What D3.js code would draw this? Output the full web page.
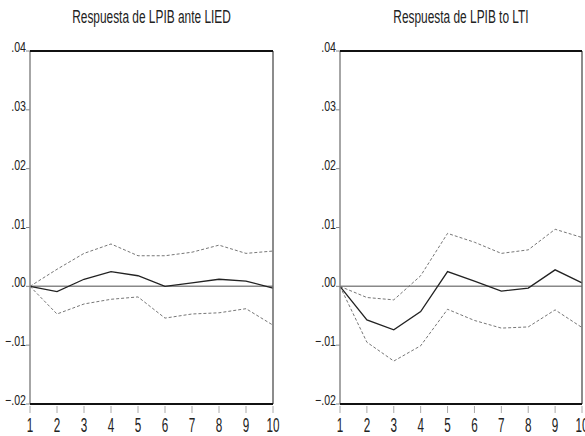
<!DOCTYPE html>
<html>
<head>
<meta charset="utf-8">
<script src="https://cdn.jsdelivr.net/npm/d3@7"></script>
<style>
  body { margin: 0; background: #fff; }
  text { font-family: "Liberation Sans", Arial, sans-serif; fill: #222; }
</style>
</head>
<body>
<svg id="chart" width="585" height="436"></svg>
<script>
// periods and tick values
var periods = [1, 2, 3, 4, 5, 6, 7, 8, 9, 10];
var yTicks = [-0.02, -0.01, 0.00, 0.01, 0.02, 0.03, 0.04];
var titles = ["Respuesta de LPIB ante LIED", "Respuesta de LPIB to LTI"];

// LPIB response to LIED
var liedResp  = [0, -0.0009, 0.0012, 0.0025, 0.0018, 0.0000, 0.0006, 0.0012, 0.0009, -0.0003];
var liedUpper = [0, 0.0029, 0.0056, 0.0072, 0.0052, 0.0052, 0.0058, 0.0070, 0.0056, 0.0060];
var liedLower = [0, -0.0047, -0.0030, -0.0022, -0.0018, -0.0054, -0.0047, -0.0045, -0.0038, -0.0066];

// LPIB response to LTI
var ltiResp  = [0, -0.0057, -0.0074, -0.0043, 0.0025, 0.0009, -0.0008, -0.0003, 0.0028, 0.0006];
var ltiUpper = [0, -0.0019, -0.0023, 0.0018, 0.0090, 0.0075, 0.0056, 0.0062, 0.0097, 0.0083];
var ltiLower = [0, -0.0095, -0.0127, -0.0101, -0.0039, -0.0058, -0.0071, -0.0069, -0.0040, -0.0070];

var svg = d3.select("#chart");

var panels = [
  {x0: 30, x1: 273, title: titles[0], resp: liedResp, upper: liedUpper, lower: liedLower},
  {x0: 340, x1: 582, title: titles[1], resp: ltiResp, upper: ltiUpper, lower: ltiLower}
];

var yTop = 51, yBot = 404;

// narrow tall lettering, like the original
function label(g, x, y, str, size, sx, anchor) {
  g.append("text")
    .attr("transform", "translate(" + x + "," + y + ") scale(" + sx + ",1)")
    .attr("font-size", size)
    .attr("text-anchor", anchor)
    .text(str);
}

var fmt = function(v) { return d3.format(".2f")(v).replace("0.", "."); };

panels.forEach(function(p) {
  var x = d3.scaleLinear().domain([1, 10]).range([p.x0, p.x1]);
  var y = d3.scaleLinear().domain([-0.02, 0.04]).range([yBot, yTop]);
  var g = svg.append("g");

  label(g, (p.x0 + p.x1) / 2, 23, p.title, 17.5, 0.68, "middle");

  // y ticks and labels
  yTicks.forEach(function(t) {
    g.append("line")
      .attr("x1", p.x0 - 4).attr("x2", p.x0)
      .attr("y1", y(t)).attr("y2", y(t))
      .attr("stroke", "#888").attr("stroke-width", 1);
    label(g, p.x0 - 4, y(t) + 1, fmt(t), 14, 0.76, "end");
  });

  // x ticks and labels
  periods.forEach(function(t) {
    g.append("line")
      .attr("x1", x(t)).attr("x2", x(t))
      .attr("y1", yBot + 2).attr("y2", yBot + 9)
      .attr("stroke", "#aaa").attr("stroke-width", 1);
    label(g, x(t), 432, t, 19.5, 0.6, "middle");
  });

  // zero line
  g.append("line")
    .attr("x1", p.x0).attr("x2", p.x1)
    .attr("y1", y(0)).attr("y2", y(0))
    .attr("stroke", "#888").attr("stroke-width", 1.5);

  var line = d3.line()
    .x(function(d, i) { return x(periods[i]); })
    .y(function(d) { return y(d); });

  g.append("path").datum(p.upper)
    .attr("d", line).attr("fill", "none")
    .attr("stroke", "#777").attr("stroke-width", 1)
    .attr("stroke-dasharray", "3,2");
  g.append("path").datum(p.lower)
    .attr("d", line).attr("fill", "none")
    .attr("stroke", "#777").attr("stroke-width", 1)
    .attr("stroke-dasharray", "3,2");
  g.append("path").datum(p.resp)
    .attr("d", line).attr("fill", "none")
    .attr("stroke", "#222").attr("stroke-width", 1.3);

  // frame
  g.append("line").attr("x1", p.x0).attr("x2", p.x0).attr("y1", yTop).attr("y2", yBot)
    .attr("stroke", "#888").attr("stroke-width", 1.5);
  g.append("line").attr("x1", p.x1).attr("x2", p.x1).attr("y1", yTop).attr("y2", yBot)
    .attr("stroke", "#666").attr("stroke-width", 1.5);
  g.append("line").attr("x1", p.x0).attr("x2", p.x1).attr("y1", yTop).attr("y2", yTop)
    .attr("stroke", "#111").attr("stroke-width", 2);
  g.append("line").attr("x1", p.x0).attr("x2", p.x1).attr("y1", yBot).attr("y2", yBot)
    .attr("stroke", "#111").attr("stroke-width", 2);
});
</script>
</body>
</html>
